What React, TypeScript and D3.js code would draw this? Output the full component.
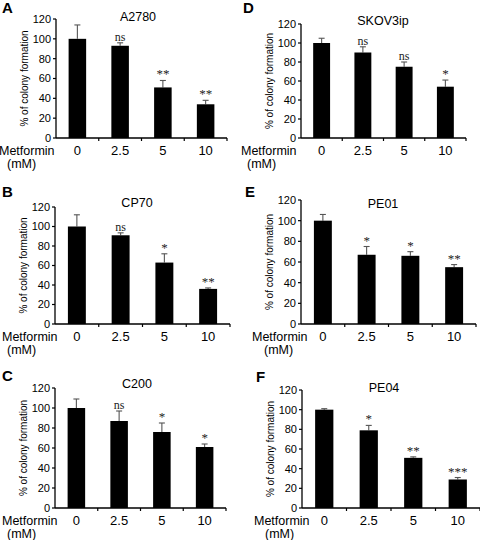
import React from "react";
import * as d3 from "d3";

const doses = ["0", "2.5", "5", "10"];
const yTicks = [0, 20, 40, 60, 80, 100, 120];
const panelLetters = ["A", "B", "C", "D", "E", "F"];
const cellLines = ["A2780", "CP70", "C200", "SKOV3ip", "PE01", "PE04"];

const a2780Means = [100, 93, 51, 34];
const a2780Errs = [14, 3, 7, 4];
const a2780Sig = ["", "ns", "**", "**"];

const cp70Means = [100, 91, 63, 36];
const cp70Errs = [12, 2.5, 9, 1];
const cp70Sig = ["", "ns", "*", "**"];

const c200Means = [100, 87, 76, 61];
const c200Errs = [9, 10, 9, 3];
const c200Sig = ["", "ns", "*", "*"];

const skov3ipMeans = [100, 90, 75, 54];
const skov3ipErrs = [5, 6, 5, 7];
const skov3ipSig = ["", "ns", "ns", "*"];

const pe01Means = [100, 67, 66, 55];
const pe01Errs = [6, 8, 4, 2.5];
const pe01Sig = ["", "*", "*", "**"];

const pe04Means = [100, 79, 51, 29];
const pe04Errs = [1, 5, 1, 2];
const pe04Sig = ["", "*", "**", "***"];

const seriesMeans = [a2780Means, cp70Means, c200Means, skov3ipMeans, pe01Means, pe04Means];
const seriesErrs = [a2780Errs, cp70Errs, c200Errs, skov3ipErrs, pe01Errs, pe04Errs];
const seriesSig = [a2780Sig, cp70Sig, c200Sig, skov3ipSig, pe01Sig, pe04Sig];

// layout frames: x0, x1, yTop(120), yBot(0), letter position, metformin label x positions
const frames = [
  { x0: 56, x1: 227, yTop: 19, yBot: 138, lx: 2, ly: 13, metX: -1, mmX: 7, titleDy: 2 },
  { x0: 55, x1: 230, yTop: 207, yBot: 324, lx: 2, ly: 197, metX: 2, mmX: 7, titleDy: 0 },
  { x0: 55, x1: 226, yTop: 388, yBot: 508, lx: 2, ly: 381, metX: 2, mmX: 7, titleDy: 0 },
  { x0: 301, x1: 466, yTop: 24, yBot: 138, lx: 243, ly: 13, metX: 241, mmX: 247, titleDy: 1 },
  { x0: 301, x1: 476, yTop: 200, yBot: 324, lx: 245, ly: 197, metX: 252, mmX: 264, titleDy: 8 },
  { x0: 302, x1: 480, yTop: 390, yBot: 508, lx: 256, ly: 382, metX: 254, mmX: 265, titleDy: 2 },
];

const SANS = "'Liberation Sans', Arial, Helvetica, sans-serif";
const SERIF = "'Liberation Serif', 'Times New Roman', serif";

function Panel({ idx }: { idx: number }) {
  const f = frames[idx];
  const means = seriesMeans[idx];
  const errs = seriesErrs[idx];
  const sig = seriesSig[idx];
  const x = d3
    .scaleBand<string>()
    .domain(doses)
    .range([f.x0, f.x1])
    .paddingInner(0.59)
    .paddingOuter(0.295);
  const y = d3.scaleLinear().domain([0, 120]).range([f.yBot, f.yTop]);
  const step = x.step();
  const bw = x.bandwidth();
  const boundaries = doses.map((_, i) => f.x0 + step * (i + 1));
  return (
    <g>
      <text x={f.lx} y={f.ly} fontFamily={SANS} fontWeight="bold" fontSize={15} fill="#000">
        {panelLetters[idx]}
      </text>
      <text
        x={f.x0 + 82}
        y={f.yTop + f.titleDy}
        fontFamily={SANS}
        fontSize={12.5}
        textAnchor="middle"
        fill="#000"
      >
        {cellLines[idx]}
      </text>
      {/* y axis */}
      <line x1={f.x0} x2={f.x0} y1={y(0)} y2={y(120)} stroke="#000" strokeWidth={1.3} />
      {yTicks.map((t) => (
        <g key={t}>
          <line x1={f.x0 - 3} x2={f.x0} y1={y(t)} y2={y(t)} stroke="#000" strokeWidth={1.2} />
          <text
            x={f.x0 - 5}
            y={y(t)}
            dy="0.35em"
            textAnchor="end"
            fontFamily={SANS}
            fontSize={11}
            fill="#000"
          >
            {t}
          </text>
        </g>
      ))}
      <text
        transform={`translate(${f.x0 - 28},${(f.yTop + f.yBot) / 2}) rotate(-90)`}
        textAnchor="middle"
        fontFamily={SANS}
        fontSize={10}
        fill="#000"
      >
        % of colony formation
      </text>
      {/* bars */}
      {doses.map((d, i) => {
        const cx = (x(d) as number) + bw / 2;
        const top = y(means[i] + errs[i]);
        return (
          <g key={d}>
            <line x1={cx} x2={cx} y1={y(means[i])} y2={top} stroke="#555" strokeWidth={1.1} />
            <line x1={cx - 3} x2={cx + 3} y1={top} y2={top} stroke="#555" strokeWidth={1.1} />
            <rect
              x={x(d) as number}
              y={y(means[i])}
              width={bw}
              height={y(0) - y(means[i])}
              fill="#000"
            />
            {sig[i] && (
              <text
                x={cx}
                y={top - 2}
                textAnchor="middle"
                fontFamily={SERIF}
                fontSize={sig[i] === "ns" ? 12 : 13}
                fill="#222"
              >
                {sig[i]}
              </text>
            )}
            <text
              x={cx}
              y={f.yBot + 17}
              textAnchor="middle"
              fontFamily={SANS}
              fontSize={13}
              fill="#000"
            >
              {d}
            </text>
          </g>
        );
      })}
      {/* x axis */}
      <line x1={f.x0} x2={f.x1} y1={y(0)} y2={y(0)} stroke="#000" strokeWidth={1.3} />
      {boundaries.map((b, i) => (
        <line key={i} x1={b} x2={b} y1={y(0)} y2={y(0) + 3} stroke="#000" strokeWidth={1.2} />
      ))}
      <text x={f.metX} y={f.yBot + 17} fontFamily={SANS} fontSize={12.5} fill="#000">
        Metformin
      </text>
      <text x={f.mmX} y={f.yBot + 29.5} fontFamily={SANS} fontSize={12.5} fill="#000">
        (mM)
      </text>
    </g>
  );
}

export default function App() {
  return (
    <svg
      width={480}
      height={540}
      style={{ position: "absolute", left: 0, top: 0, background: "#fff" }}
    >
      <rect width={480} height={540} fill="#fff" />
      {frames.map((_, i) => (
        <Panel key={i} idx={i} />
      ))}
    </svg>
  );
}
